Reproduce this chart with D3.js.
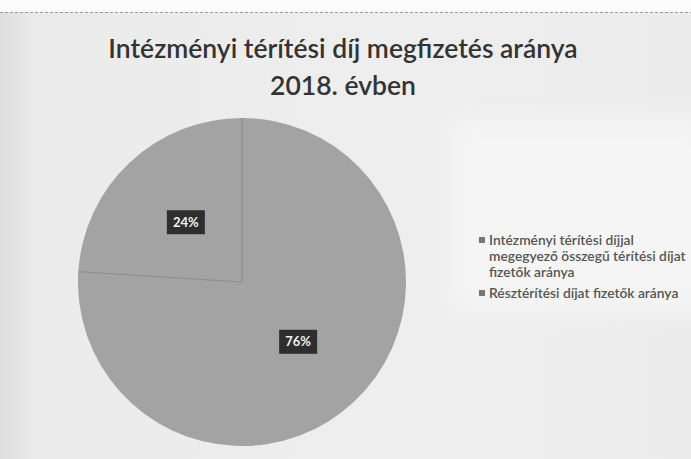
<!DOCTYPE html>
<html>
<head>
<meta charset="utf-8">
<script src="https://cdn.jsdelivr.net/npm/d3@7"></script>
<style>
  html, body { margin: 0; padding: 0; background: #ebebeb; }
  svg { display: block; }
</style>
</head>
<body>
<svg id="chart" width="691" height="459"></svg>
<script>
const titleLines = ["Intézményi térítési díj megfizetés aránya", "2018. évben"];
const categories = [
  "Intézményi térítési díjjal megegyező összegű térítési díjat fizetők aránya",
  "Résztérítési díjat fizetők aránya"
];
const legendLines = [
  ["Intézményi térítési díjjal", "megegyező összegű térítési díjat", "fizetők aránya"],
  ["Résztérítési díjat fizetők aránya"]
];
const values = [76, 24];
const labels = ["76%", "24%"];
const colors = ["#a3a3a3", "#a3a3a3"];

const W = 691, H = 459;
const svg = d3.select("#chart");

// background (scanned page)
const defs = svg.append("defs");
const grad = defs.append("linearGradient").attr("id", "bg").attr("x1", "0").attr("x2", "1").attr("y1", "0").attr("y2", "0");
grad.append("stop").attr("offset", "0").attr("stop-color", "#dedede");
grad.append("stop").attr("offset", "0.05").attr("stop-color", "#ebebeb");
grad.append("stop").attr("offset", "0.6").attr("stop-color", "#eeeeee");
grad.append("stop").attr("offset", "1").attr("stop-color", "#ececec");
defs.append("filter").attr("id", "soft").attr("x", "-20%").attr("y", "-20%").attr("width", "140%").attr("height", "140%")
  .append("feGaussianBlur").attr("stdDeviation", 12);
svg.append("rect").attr("width", W).attr("height", H).attr("fill", "url(#bg)");
svg.append("rect").attr("x", 450).attr("y", 120).attr("width", 260).attr("height", 190)
  .attr("fill", "#f5f5f5").attr("filter", "url(#soft)");
svg.append("rect").attr("x", 0).attr("y", 0).attr("width", W).attr("height", 12).attr("fill", "#fbfbfb");
svg.append("line").attr("x1", 0).attr("x2", W).attr("y1", 12.5).attr("y2", 12.5)
  .attr("stroke", "#9a9a9a").attr("stroke-width", 1).attr("stroke-dasharray", "3,2");

// title
svg.append("g").selectAll("text").data(titleLines).join("text")
  .attr("x", 343).attr("y", (d, i) => 58 + i * 37)
  .attr("text-anchor", "middle")
  .attr("font-family", "Lato, 'Open Sans', sans-serif")
  .attr("font-size", 26.5).attr("font-weight", 600)
  .attr("fill", "#333333")
  .text(d => d);

// pie
const cx = 242, cy = 282, r = 164;
const pie = d3.pie().sort(null).value(d => d);
const arcs = pie(values);
const arc = d3.arc().innerRadius(0).outerRadius(r);
const g = svg.append("g").attr("transform", `translate(${cx},${cy})`);
g.selectAll("path").data(arcs).join("path")
  .attr("d", arc)
  .attr("fill", (d, i) => colors[i]);
// slice separators (radial edges only)
g.selectAll("line.sep").data(arcs).join("line").attr("class", "sep")
  .attr("x1", 0).attr("y1", 0)
  .attr("x2", d => r * Math.sin(d.startAngle))
  .attr("y2", d => -r * Math.cos(d.startAngle))
  .attr("stroke", "#868686").attr("stroke-width", 0.9);

// data labels
const lbl = g.selectAll("g.lbl").data(arcs).join("g").attr("class", "lbl")
  .attr("transform", d => { const c = arc.centroid(d); return `translate(${c[0]},${c[1]})`; });
lbl.append("rect").attr("x", -19).attr("y", -12).attr("width", 38).attr("height", 24).attr("fill", "#2e2e2e");
lbl.append("text").attr("text-anchor", "middle").attr("dy", "0.36em")
  .attr("font-family", "Lato, sans-serif").attr("font-size", 13).attr("font-weight", 700)
  .attr("fill", "#f2f2f2").text((d, i) => labels[i]);

// legend
const legend = svg.append("g");
const itemY = [245, 298];
legendLines.forEach((lines, i) => {
  legend.append("rect").attr("x", 479).attr("y", itemY[i] - 8).attr("width", 6).attr("height", 6).attr("fill", "#767676");
  legend.append("text")
    .attr("font-family", "Lato, sans-serif").attr("font-size", 13.8).attr("font-weight", 600)
    .attr("fill", "#555555")
    .selectAll("tspan").data(lines).join("tspan")
    .attr("x", 489).attr("y", (d, j) => itemY[i] + j * 16)
    .text(d => d);
});
</script>
</body>
</html>
